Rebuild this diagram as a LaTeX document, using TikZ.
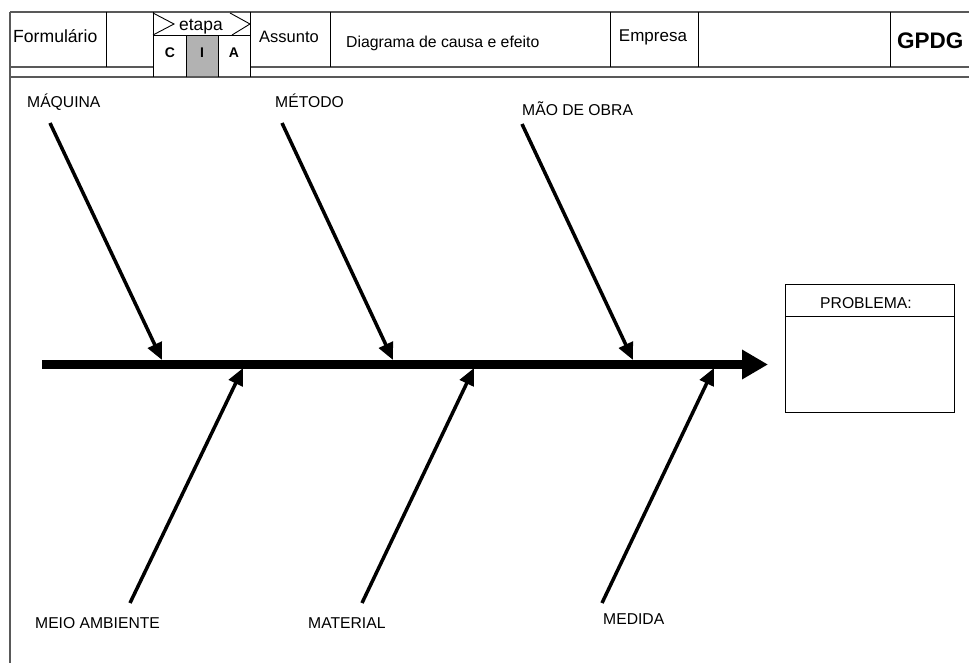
\documentclass[tikz,border=0pt]{standalone}
\usepackage{fontspec}
\setmainfont{Liberation Sans}
\usetikzlibrary{arrows.meta}
\tikzset{
  hline/.style={draw=black!65, line width=1.3bp},
  vline/.style={draw=black, line width=1bp},
  hdr/.style={font=\fontsize{16.5bp}{19bp}\selectfont, inner sep=0pt, anchor=base},
  hdrw/.style={font=\fontsize{15.8bp}{19bp}\selectfont, inner sep=0pt, anchor=base west},
  cia/.style={font=\bfseries\fontsize{14bp}{16bp}\selectfont, inner sep=0pt, anchor=base},
  lbl/.style={font=\fontsize{15.7bp}{18bp}\selectfont, inner sep=0pt, anchor=base west},
  bone/.style={line width=3.5bp, -{Triangle[length=17bp,width=15bp]}},
  spine/.style={line width=9bp, -{Triangle[length=26bp,width=28bp]}},
  chev/.style={draw=black, line width=0.9bp},
}
\begin{document}
\begin{tikzpicture}[x=1bp,y=-1bp]
\useasboundingbox (0,0) rectangle (969,663);
% I cell fill
\fill[black!30] (186,36) rectangle (218,77);
% horizontal rules
\draw[hline] (10,12) -- (969,12);
\draw[hline] (10,67) -- (153,67);
\draw[hline] (250,67) -- (969,67);
\draw[hline] (10,77) -- (969,77);
% left border
\draw[hline] (10,12) -- (10,663);
% vertical dividers
\draw[vline] (106,12) -- (106,67);
\draw[vline] (153,12) -- (153,77);
\draw[vline] (250,12) -- (250,77);
\draw[vline] (153,36) -- (250,36);
\draw[vline] (186,36) -- (186,77);
\draw[vline] (218,36) -- (218,77);
\draw[vline] (330,12) -- (330,67);
\draw[vline] (610,12) -- (610,67);
\draw[vline] (698,12) -- (698,67);
\draw[vline] (890,12) -- (890,67);
% chevrons
\draw[chev] (153,13) -- (174,24) -- (153,35);
\draw[chev] (230,13) -- (250,24) -- (232,35);
% header texts
\node[hdr, anchor=base west, font=\fontsize{17.6bp}{20bp}\selectfont] (form) at (13,43) {Formulário};
\node[hdr, font=\fontsize{17.4bp}{20bp}\selectfont] (etapa) at (201,31) {etapa};
\node[cia] (c) at (170,58) {C};
\node[cia] (i) at (202,58) {I};
\node[cia] (a) at (234,58) {A};
\node[hdr] (assunto) at (289,43) {Assunto};
\node[hdrw] (diag) at (346,48) {Diagrama de causa e efeito};
\node[hdr, font=\fontsize{17bp}{20bp}\selectfont] (empresa) at (653,42) {Empresa};
\node[font=\bfseries\fontsize{22.5bp}{26bp}\selectfont, inner sep=0pt, anchor=base west] (gpdg) at (897,49) {GPDG};
% problem box
\node[draw=black, line width=1bp, minimum width=169bp, minimum height=128bp, inner sep=0pt, anchor=north west] (prob) at (785,284) {};
\draw[vline] (785,316) -- (954,316);
\node[font=\fontsize{15.7bp}{18bp}\selectfont, inner sep=0pt, anchor=base] (probt) at (866,308) {PROBLEMA:};
% spine
\coordinate (s0) at (42,364.5);
\coordinate (s1) at (768,364.5);
\draw[spine] (s0) -- (s1);
% bone coordinates
\coordinate (maq0) at (50,123);   \coordinate (maq1) at (162,360);
\coordinate (met0) at (282,123);  \coordinate (met1) at (393,360);
\coordinate (mao0) at (522,124);  \coordinate (mao1) at (633,360);
\coordinate (mei0) at (130,603);  \coordinate (mei1) at (243,368);
\coordinate (mat0) at (362,603);  \coordinate (mat1) at (474,368);
\coordinate (med0) at (602,603);  \coordinate (med1) at (714,368);
\draw[bone] (maq0) -- (maq1);
\draw[bone] (met0) -- (met1);
\draw[bone] (mao0) -- (mao1);
\draw[bone] (mei0) -- (mei1);
\draw[bone] (mat0) -- (mat1);
\draw[bone] (med0) -- (med1);
% labels
\node[lbl] (lmaq) at (27,108) {MÁQUINA};
\node[lbl] (lmet) at (275,108) {MÉTODO};
\node[lbl] (lmao) at (522,116) {MÃO DE OBRA};
\node[lbl] (lmei) at (35,628) {MEIO AMBIENTE};
\node[lbl] (lmat) at (308,628) {MATERIAL};
\node[lbl] (lmed) at (603,624) {MEDIDA};
\end{tikzpicture}
\end{document}
